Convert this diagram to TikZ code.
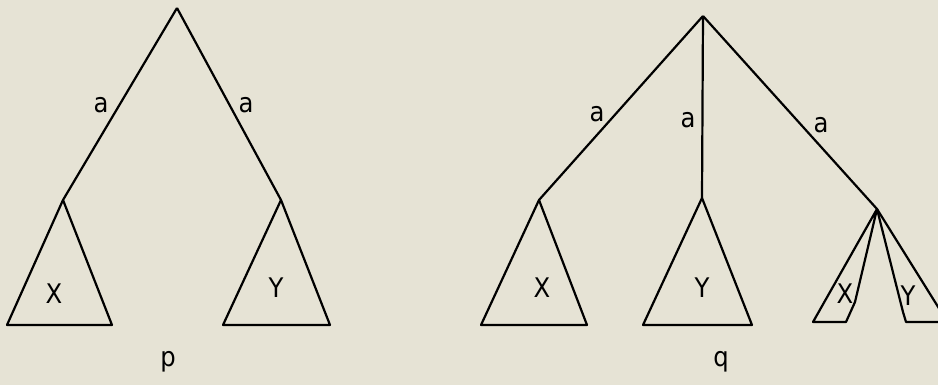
\documentclass[tikz,border=0pt]{standalone}
\usepackage{fontspec}
\setmainfont{DejaVu Sans Condensed}
\definecolor{paper}{RGB}{230,227,213}
\begin{document}
\begin{tikzpicture}[x=1pt,y=-1pt,
  edge/.style={draw=black,line width=2.2pt,line join=round},
  lbl/.style={inner sep=0pt,anchor=base,font=\fontsize{27}{27}\selectfont}]
\fill[paper] (0,0) rectangle (938,385);
\useasboundingbox (0,0) rectangle (938,385);
\clip (0,0) rectangle (938,385);
% tree p
\coordinate (P) at (177,8);
\coordinate (PL) at (63,200);
\coordinate (PR) at (281,200);
\draw[edge] (P) -- (PL);
\draw[edge] (P) -- (PR);
\draw[edge] (PL) -- (7,325) -- (112,325) -- cycle;
\draw[edge] (PR) -- (223,325) -- (330,325) -- cycle;
\node[lbl] (pa1) at (101,113) {a};
\node[lbl] (pa2) at (246,113) {a};
\node[lbl] (px) at (54,303) {X};
\node[lbl] (py) at (276,297) {Y};
\node[lbl] (plab) at (168,366) {p};
% tree q
\coordinate (Q) at (703,16);
\coordinate (QL) at (539,200);
\coordinate (QM) at (702,198);
\coordinate (QR) at (877,209);
\draw[edge] (Q) -- (QL);
\draw[edge] (Q) -- (QM);
\draw[edge] (Q) -- (QR);
\draw[edge] (QL) -- (481,325) -- (587,325) -- cycle;
\draw[edge] (QM) -- (643,325) -- (752,325) -- cycle;
\draw[edge] (QR) -- (813,322) -- (846,322) -- (855,302) -- cycle;
\draw[edge] (QR) -- (903,312) -- (906,322) -- (950,322);
\draw[edge] (QR) -- (950,326);
\node[lbl] (qa1) at (597,122) {a};
\node[lbl] (qa2) at (688,128) {a};
\node[lbl] (qa3) at (821,133) {a};
\node[lbl] (qx) at (542,298) {X};
\node[lbl] (qy) at (702,297) {Y};
\node[lbl] (qx2) at (845,303) {X};
\node[lbl] (qy2) at (908,305) {Y};
\node[lbl] (qlab) at (721,366) {q};
\end{tikzpicture}
\end{document}
